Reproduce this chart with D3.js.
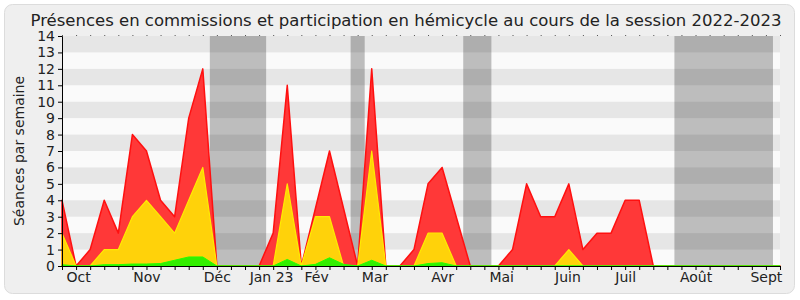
<!DOCTYPE html>
<html>
<head>
<meta charset="utf-8">
<script src="https://cdn.jsdelivr.net/npm/d3@7"></script>
<style>
  body { margin: 0; background: #fff; }
  svg text { font-family: "DejaVu Sans", sans-serif; fill: #222; }
</style>
</head>
<body>
<svg id="chart" width="800" height="300"></svg>
<script>
// weekly values, one per week of the session (52 weeks)
const totalSeances = [4, 0, 1, 4, 2, 8, 7, 4, 3, 9, 12, 0, 0, 0, 0, 2, 11, 0, 3.5, 7,
  3.5, 0, 12, 0, 0, 1, 5, 6, 3, 0, 0, 0, 1, 5, 3, 3, 5, 1, 2, 2,
  4, 4, 0, 0, 0, 0, 0, 0, 0, 0, 0, 0];
const commissionSeances = [2, 0, 0, 1, 1, 3, 4, 3, 2, 4, 6, 0, 0, 0, 0, 0, 5, 0, 3, 3,
  0, 0, 7, 0, 0, 0, 2, 2, 0, 0, 0, 0, 0, 0, 0, 0, 1, 0, 0, 0,
  0, 0, 0, 0, 0, 0, 0, 0, 0, 0, 0, 0];
const hemicycleSeances = [0.08, 0, 0, 0.08, 0.08, 0.12, 0.12, 0.15, 0.35, 0.55, 0.55, 0, 0, 0, 0, 0, 0.4, 0, 0.1, 0.5,
  0.1, 0, 0.35, 0, 0, 0, 0.15, 0.2, 0, 0, 0, 0, 0, 0, 0, 0, 0, 0, 0, 0,
  0, 0, 0, 0, 0, 0, 0, 0, 0, 0, 0, 0];

// vacation periods, in week index
const vacances = [[10.5, 14.5], [20.5, 21.5], [28.5, 30.5], [43.5, 50.5]];

const moisLabels = ['Oct', 'Nov', 'Déc', 'Jan 23', 'Fév', 'Mar', 'Avr', 'Mai', 'Juin', 'Juil', 'Août', 'Sept'];
const moisSemaine = [1.15, 6, 11, 14.85, 18.05, 22.2, 27, 31.2, 35.9, 40, 45, 50];

const svg = d3.select('#chart');

svg.append('rect')
  .attr('x', 4.5).attr('y', 4.5).attr('width', 790).attr('height', 289)
  .attr('rx', 8).attr('fill', '#efefef').attr('stroke', '#dcdcdc');

const x = d3.scaleLinear().domain([0, totalSeances.length - 1]).range([62, 780]);
const y = d3.scaleLinear().domain([0, 14]).range([266, 36]);

const plot = svg.append('g');

plot.append('rect')
  .attr('x', x(0)).attr('y', y(14))
  .attr('width', x(51) - x(0)).attr('height', y(0) - y(14))
  .attr('fill', '#fafafa');

plot.selectAll('rect.vac').data(vacances).join('rect')
  .attr('class', 'vac')
  .attr('x', d => x(d[0])).attr('y', y(14))
  .attr('width', d => x(d[1]) - x(d[0])).attr('height', y(0) - y(14))
  .attr('fill', '#bdbdbd');

// alternating grey rows
plot.selectAll('rect.row').data(d3.range(1, 14, 2)).join('rect')
  .attr('class', 'row')
  .attr('x', x(0)).attr('y', d => y(d + 1))
  .attr('width', x(51) - x(0)).attr('height', d => y(d) - y(d + 1))
  .attr('fill', '#000').attr('opacity', 0.08);

const area = values => d3.area()
  .x((d, i) => x(i))
  .y0(y(0))
  .y1(d => y(d))(values);

plot.append('path').attr('d', area(totalSeances))
  .attr('fill', '#ff3838').attr('stroke', '#ff1010').attr('stroke-width', 1.5)
  .attr('stroke-linejoin', 'round');
plot.append('path').attr('d', area(commissionSeances))
  .attr('fill', '#ffd20a').attr('stroke', '#ffec00').attr('stroke-width', 1.2)
  .attr('stroke-linejoin', 'round');
plot.append('path').attr('d', area(hemicycleSeances))
  .attr('fill', '#33ee00').attr('stroke', '#22ff00').attr('stroke-width', 1);

// axes
const weeks = d3.range(0, totalSeances.length);

svg.append('g')
  .attr('transform', `translate(0,${y(0)})`)
  .call(d3.axisBottom(x).tickValues(weeks).tickSize(4).tickFormat(''))
  .call(g => g.selectAll('path, line').attr('stroke', '#000'));

svg.append('g')
  .attr('transform', `translate(0,${y(0)})`)
  .call(d3.axisBottom(x).tickValues(moisSemaine).tickSize(0).tickPadding(6)
    .tickFormat((d, i) => moisLabels[i]))
  .call(g => g.select('.domain').remove())
  .call(g => g.selectAll('text').attr('font-size', 14).attr('font-family', null).attr('fill', null));

svg.append('g')
  .attr('transform', `translate(0,${y(14)})`)
  .call(d3.axisTop(x).tickValues(weeks).tickSize(1).tickFormat(''))
  .call(g => g.select('.domain').remove())
  .call(g => g.selectAll('line').attr('stroke', '#555'));

svg.append('g')
  .attr('transform', `translate(${x(0)},0)`)
  .call(d3.axisLeft(y).ticks(14).tickSize(4).tickPadding(3))
  .call(g => g.selectAll('path, line').attr('stroke', '#000'))
  .call(g => g.selectAll('text').attr('font-size', 14).attr('font-family', null).attr('fill', null));

svg.append('text')
  .attr('transform', `translate(24,${(y(0) + y(14)) / 2}) rotate(-90)`)
  .attr('text-anchor', 'middle')
  .attr('font-size', 14)
  .text('Séances par semaine');

svg.append('text')
  .attr('x', 406).attr('y', 26)
  .attr('text-anchor', 'middle')
  .attr('font-size', 16.5)
  .text('Présences en commissions et participation en hémicycle au cours de la session 2022-2023');
</script>
</body>
</html>
